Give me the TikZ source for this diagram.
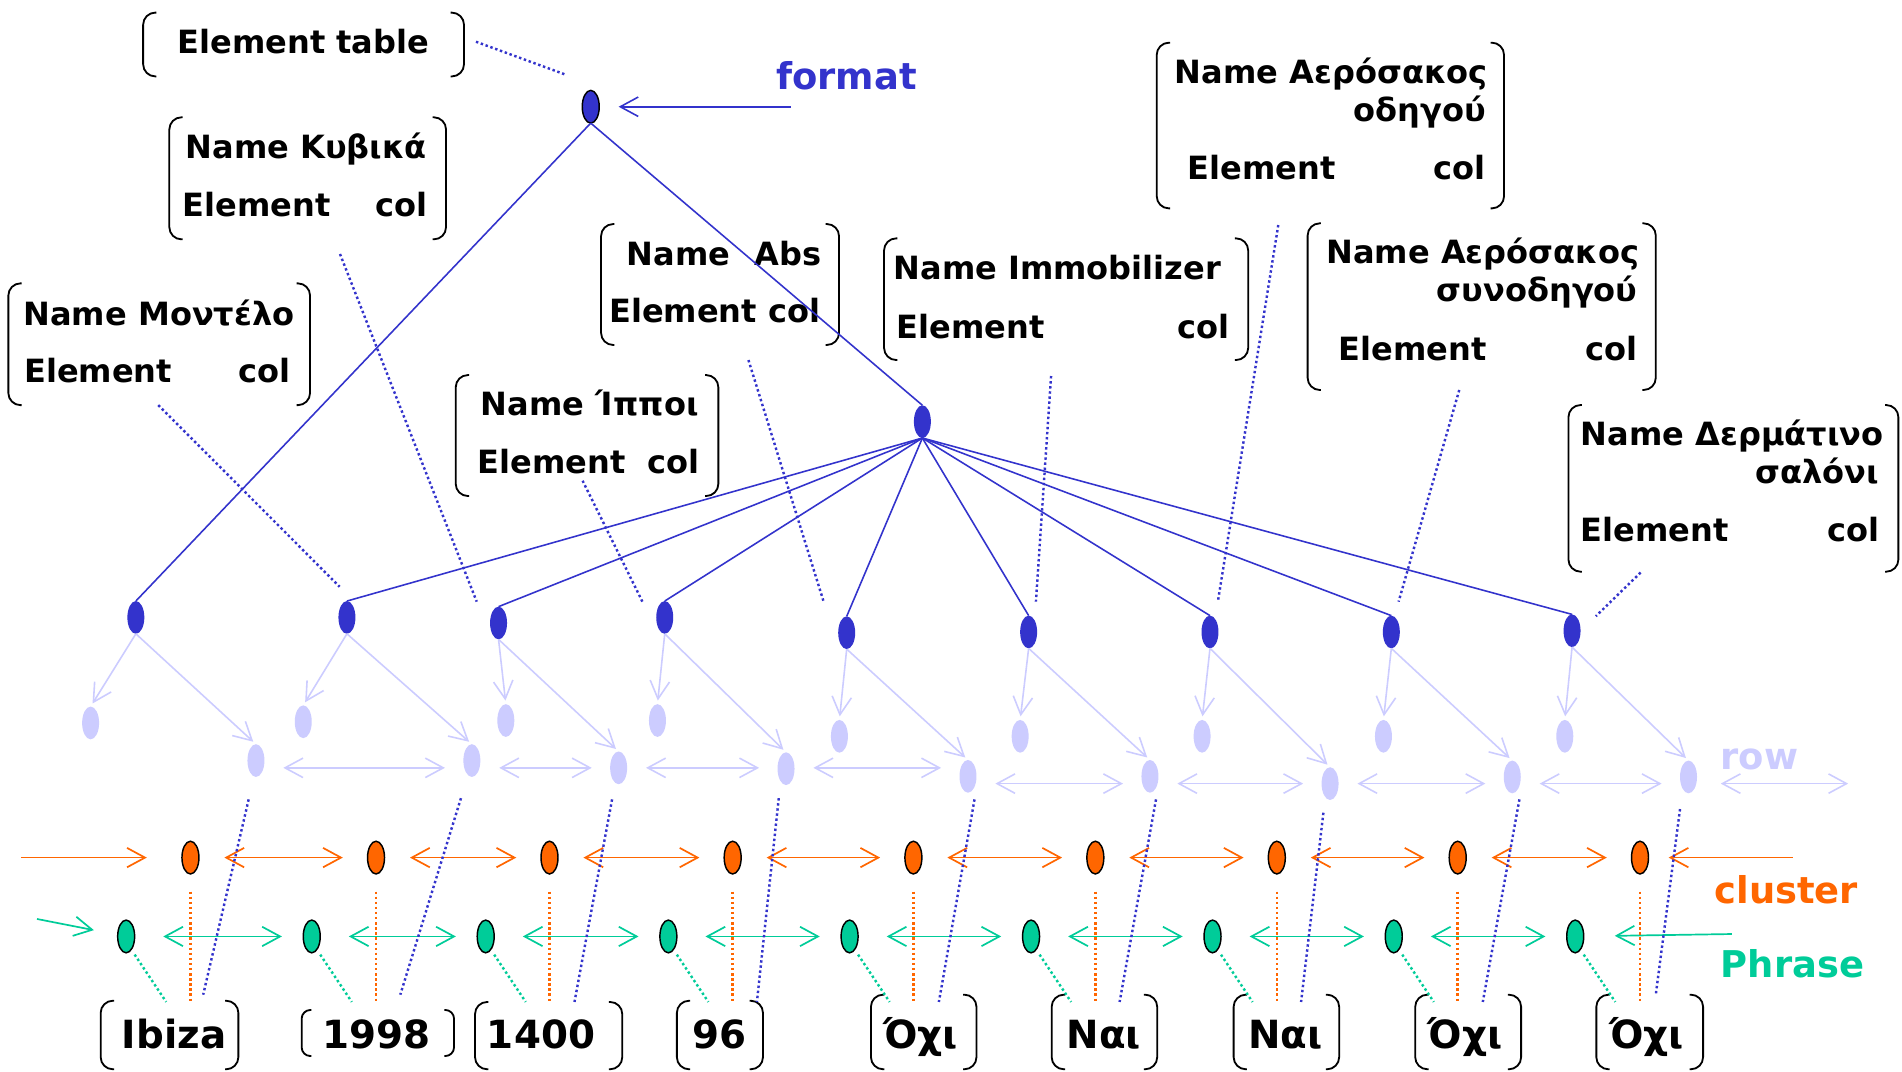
\documentclass[tikz,border=0pt]{standalone}
\usepackage{fontspec}
\setmainfont{DejaVu Sans}
\usetikzlibrary{shapes.geometric,arrows.meta,calc,fit}
\definecolor{tblue}{HTML}{3333CC}
\definecolor{tlight}{HTML}{CCCCFF}
\definecolor{torange}{HTML}{FF6600}
\definecolor{tgreen}{HTML}{00CC99}
% round brackets drawn on both sides of a node: #1 node, #2 hook length, #3 corner radius
\newcommand\ebrackets[3]{%
  \draw[bracketline,rounded corners=#3] ([xshift=#2]#1.north west) -- (#1.north west) -- (#1.south west) -- ([xshift=#2]#1.south west);
  \draw[bracketline,rounded corners=#3] ([xshift=-#2]#1.north east) -- (#1.north east) -- (#1.south east) -- ([xshift=-#2]#1.south east);}
\begin{document}
\begin{tikzpicture}[x=0.5pt,y=-0.5pt,
  every node/.style={inner sep=0pt,outer sep=0pt},
  dotnode/.style={ellipse,minimum width=7pt,minimum height=13.5pt},
  rootdot/.style={dotnode,fill=tblue,draw=black,line width=0.6pt},
  coldot/.style={dotnode,fill=tblue},
  rowdot/.style={dotnode,fill=tlight},
  cldot/.style={dotnode,fill=torange,draw=black,line width=0.6pt},
  phdot/.style={dotnode,fill=tgreen,draw=black,line width=0.6pt},
  boxarea/.style={rectangle,draw=none},
  bracketline/.style={black,line width=0.75pt},
  treeline/.style={tblue,line width=0.65pt},
  lightline/.style={tlight,line width=0.65pt},
  clline/.style={torange,line width=0.7pt},
  phline/.style={tgreen,line width=0.7pt},
  barb/.style={-{Straight Barb[length=7.4pt,width=8pt]}},
  dbarb/.style={{Straight Barb[length=7.4pt,width=8pt]}-{Straight Barb[length=7.4pt,width=8pt]}},
  leader/.style={tblue,line width=1pt,dash pattern=on 1pt off 1.1pt},
  cldots/.style={torange,line width=1pt,dash pattern=on 1pt off 1.1pt},
  phdots/.style={tgreen,line width=1pt,dash pattern=on 1pt off 1.1pt},
  etext/.style={font=\fontsize{13.2}{15}\selectfont\bfseries,anchor=base west},
  etextr/.style={etext,anchor=base east},
  wtext/.style={font=\fontsize{16}{18}\selectfont\bfseries,anchor=base},
  tag/.style={font=\fontsize{15.2}{18}\selectfont\bfseries,anchor=base west}
]
\fill[white] (0,0) rectangle (1568,883);
\useasboundingbox (0,0) rectangle (1568,883);

% ---------- element boxes ----------
\node[boxarea,fit={(118,10.4) (382.5,63)}] (bx0) {};
\ebrackets{bx0}{5.5pt}{5pt}
\node[etext] (t0) at (146.4,44) {Element table};

\node[boxarea,fit={(139.6,96.7) (367.7,197.3)}] (bx1) {};
\ebrackets{bx1}{5.5pt}{5pt}
\node[etext] (t1a) at (153,130.5) {Name Κυβικά};
\node[etext] (t1b) at (150.5,178.6) {Element};
\node[etextr] (t1c) at (352,178.6) {col};

\node[boxarea,fit={(6.9,233.6) (255.6,334)}] (bx2) {};
\ebrackets{bx2}{5.5pt}{5pt}
\node[etext] (t2a) at (19.4,268) {Name Μοντέλο};
\node[etext] (t2b) at (20,315.5) {Element};
\node[etextr] (t2c) at (239.7,315.5) {col};

\node[boxarea,fit={(495.5,184.7) (691.7,284.4)}] (bx3) {};
\ebrackets{bx3}{5.5pt}{5pt}
\node[etext] (t3a) at (516.8,218.5) {Name};
\node[etextr] (t3b) at (677.4,218.5) {Abs};
\node[etext] (t3c) at (502.3,266) {Element col};

\node[boxarea,fit={(375.7,309.2) (592.2,408.9)}] (bx4) {};
\ebrackets{bx4}{5.5pt}{5pt}
\node[etext] (t4a) at (396.5,342.5) {Name Ίπποι};
\node[etext] (t4b) at (393.7,390.2) {Element};
\node[etextr] (t4c) at (576.3,390.2) {col};

\node[boxarea,fit={(728.8,196.5) (1029,296.8)}] (bx5) {};
\ebrackets{bx5}{5.5pt}{5pt}
\node[etext] (t5a) at (736.7,230.8) {Name Immobilizer};
\node[etext] (t5b) at (739.4,278.9) {Element};
\node[etextr] (t5c) at (1013.3,278.9) {col};

\node[boxarea,fit={(953.6,35.2) (1239.9,171.8)}] (bx6) {};
\ebrackets{bx6}{5.5pt}{5pt}
\node[etext] (t6a) at (968.6,68.7) {Name Αερόσακος};
\node[etextr] (t6b) at (1224.9,99.8) {οδηγού};
\node[etext] (t6c) at (979,147.8) {Element};
\node[etextr] (t6d) at (1224.8,147.8) {col};

\node[boxarea,fit={(1078,184.1) (1365,321.5)}] (bx7) {};
\ebrackets{bx7}{5.5pt}{5pt}
\node[etext] (t7a) at (1093.6,217.6) {Name Αερόσακος};
\node[etextr] (t7b) at (1350,248.7) {συνοδηγού};
\node[etext] (t7c) at (1103.5,297.3) {Element};
\node[etextr] (t7d) at (1350,297.3) {col};

\node[boxarea,fit={(1293,333.9) (1565,471.3)}] (bx8) {};
\ebrackets{bx8}{5.5pt}{5pt}
\node[etext] (t8a) at (1303.3,367.4) {Name Δερμάτινο};
\node[etextr] (t8b) at (1549.2,398.5) {σαλόνι};
\node[etext] (t8c) at (1303.3,446.5) {Element};
\node[etextr] (t8d) at (1549.2,446.5) {col};

% leader lines from the element boxes to the tree
\foreach \k/\ax/\ay/\bx/\by in {
  0/392.4/34.4/467/61.8, 1/280.3/209.4/393/496, 2/130.5/334/280/483.7,
  3/617/296.8/679/496, 4/480.3/396.3/529.6/496, 5/866.5/310/854/496,
  6/1053.8/185.5/1004/496, 7/1203/321.5/1153/496, 8/1352.5/472/1315.6/508}{
  \coordinate (la\k) at (\ax,\ay);
  \coordinate (lb\k) at (\bx,\by);
  \draw[leader] (la\k) -- (lb\k);
}

% ---------- tree ----------
\node[rootdot] (root) at (487,88) {};
\node[coldot] (hub) at (760.4,347.6) {};
\foreach \i/\x/\y in {1/112/509, 2/286/509, 3/411/513.6, 4/548/509, 5/698/521.6,
  6/848/521, 7/997.5/521, 8/1147/521, 9/1296/520}
  \node[coldot] (n\i) at (\x,\y) {};
\foreach \i/\x/\y in {1/74.7/596, 2/250/595, 3/417/594, 4/542/594, 5/692/607,
  6/841/607, 7/991/607, 8/1140.5/607, 9/1290/607}
  \node[rowdot] (l\i) at (\x,\y) {};
\foreach \i/\x/\y in {1/211/627, 2/389/627, 3/510/633, 4/648/633.7, 5/798/640,
  6/948/640, 7/1096.5/646, 8/1246.7/640.5, 9/1392/640.5}
  \node[rowdot] (r\i) at (\x,\y) {};

\node[tag,text=tblue] (fmtlabel) at (640,73.6) {format};
\coordinate (fmt) at (652,88);
\draw[treeline,barb,shorten >=8pt] (fmt) -- (root);

\draw[treeline] (root.south) -- (n1.north);
\draw[treeline] (root.south) -- (hub.north);
\foreach \i in {2,...,9}
  \draw[treeline] (hub.south) -- (n\i.north);

\foreach \i in {1,...,9}{
  \draw[lightline,barb,shorten >=1.5pt] (n\i.south) -- (l\i.north);
  \draw[lightline,barb,shorten >=1.5pt] (n\i.south) -- (r\i.north);
}

% row links
\foreach \a/\b/\y in {1/2/633, 2/3/633, 3/4/633, 4/5/633, 5/6/646, 6/7/646, 7/8/646, 8/9/646}
  \draw[lightline,dbarb,shorten <=7.8pt,shorten >=7.6pt] (r\a.east |- 0,\y) -- (r\b.west |- 0,\y);
\coordinate (rout) at (1523.6,646);
\draw[lightline,dbarb,shorten <=9.8pt] (r9.east |- 0,646) -- (rout);
\node[tag,text=tlight] (rowlabel) at (1418.6,634.3) {row};

% ---------- clusters ----------
\foreach \i/\x in {1/157, 2/310, 3/453, 4/604, 5/753, 6/903, 7/1052.6, 8/1201.7, 9/1352}
  \node[cldot] (c\i) at (\x,707) {};
\coordinate (cin) at (17.7,707);
\draw[clline,barb,shorten >=14.5pt] (cin) -- (c1);
\foreach \a/\b in {1/2, 2/3, 3/4, 4/5, 5/6, 6/7, 7/8, 8/9}
  \draw[clline,dbarb,shorten <=10.5pt,shorten >=10.2pt] (c\a) -- (c\b);
\coordinate (cout) at (1478,707);
\draw[clline,barb,shorten >=8.3pt] (cout) -- (c9);
\node[tag,text=torange] (cllabel) at (1413.5,744.7) {cluster};

% ---------- phrases ----------
\foreach \i/\x in {1/104, 2/257, 3/400.4, 4/551, 5/700.4, 6/850, 7/999.6, 8/1149, 9/1298.6}
  \node[phdot] (p\i) at (\x,772) {};
\coordinate (pin) at (30.5,757.6);
\draw[phline,barb,shorten >=10pt] (pin) -- (p1);
\foreach \a/\b in {1/2, 2/3, 3/4, 4/5, 5/6, 6/7, 7/8, 8/9}
  \draw[phline,dbarb,shorten <=11.8pt,shorten >=8.8pt] (p\a) -- (p\b);
\coordinate (pout) at (1427.7,770);
\draw[phline,barb,shorten >=12.8pt] (pout) -- (p9);
\node[tag,text=tgreen] (phlabel) at (1418.6,805.7) {Phrase};

% ---------- words ----------
\foreach \i/\xa/\ya/\xb/\yb in {1/83/825/196.5/881.5, 3/391.6/826/513/881.5,
  4/558/825/629/881.5, 5/718/820/805/881.5, 6/867/820/954/881.5, 7/1017/820/1104/881.5,
  8/1166.7/820/1254/881.5, 9/1316/820/1404/881.5}{
  \node[boxarea,fit={(\xa,\ya) (\xb,\yb)}] (w\i) {};
  \ebrackets{w\i}{5.5pt}{5pt}
}
\node[boxarea,fit={(248.7,832.6) (374.3,870.6)}] (w2) {};
\ebrackets{w2}{4pt}{3.6pt}

\node[wtext] (x1) at (143.5,864.2) {Ibiza};
\node[wtext] (x2) at (310.7,864.2) {1998};
\node[wtext] (x3) at (446,864.2) {1400};
\node[wtext] (x4) at (593.5,864.2) {96};
\node[wtext] (x5) at (759,864.2) {Όχι};
\node[wtext] (x6) at (910,864.2) {Ναι};
\node[wtext] (x7) at (1059.6,864.2) {Ναι};
\node[wtext] (x8) at (1207.7,864.2) {Όχι};
\node[wtext] (x9) at (1357.5,864.2) {Όχι};

% dotted links from the phrase and cluster rows down to the words
\foreach \i in {1,...,9}{
  \draw[phdots] ($(p\i)+(7,15)$) -- ($(p\i)+(33,54)$);
  \draw[cldots] ($(c\i)+(0,28)$) -- ($(c\i)+(0,118)$);
}
% dotted links from the row level down to the words
\foreach \i/\ax/\ay/\bx/\by in {1/205/659/167.5/820, 2/380/658/330/820,
  3/504.6/659/473.6/826, 4/642/658/624/826, 5/803.4/659/774/826,
  6/953/659/923/826, 7/1091/670/1072.6/826, 8/1252.6/659/1222.4/826,
  9/1385/667/1365/820}{
  \coordinate (da\i) at (\ax,\ay);
  \coordinate (db\i) at (\bx,\by);
  \draw[leader] (da\i) -- (db\i);
}
\end{tikzpicture}
\end{document}
